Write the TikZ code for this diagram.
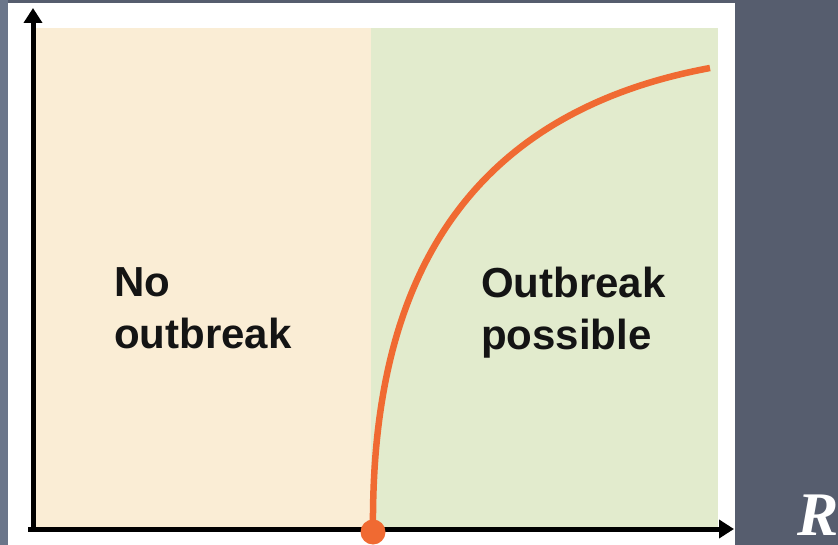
\documentclass[tikz,border=0pt]{standalone}
\usepackage{fontspec}
\setmainfont{Liberation Sans}
\newfontfamily\rfont{Liberation Serif}
\usetikzlibrary{arrows.meta}
\definecolor{bgdark}{HTML}{565D6E}
\definecolor{bgside}{HTML}{6B768A}
\definecolor{beige}{HTML}{FAEDD5}
\definecolor{palegreen}{HTML}{E2EBCD}
\definecolor{curveorange}{HTML}{F06A32}
\tikzset{
  axis/.style={line width=5pt, -{Triangle[length=15pt,width=18pt]}},
  label/.style={font=\bfseries\fontsize{42}{52}\selectfont, align=left, anchor=north west, inner sep=0pt, text=black!92},
}
\begin{document}
\begin{tikzpicture}[x=1pt,y=-1pt]
  % background
  \fill[bgdark] (0,0) rectangle (838,545);
  \fill[bgside] (0,0) rectangle (8,545);
  \useasboundingbox (0,0) rectangle (838,545);
  % white panel
  \fill[white] (8,3) rectangle (735,545);
  % regions
  \fill[beige] (33,28) rectangle (371,527);
  \fill[palegreen] (371,28) rectangle (718,527);
  % axes
  \coordinate (origin) at (33,529);
  \coordinate (ytip) at (33,8);
  \coordinate (xtip) at (734,529);
  \draw[axis] (origin) -- (ytip);
  \draw[axis] (28,529) -- (xtip);
  % labels
  \node[label] (noout) at (114,267) {No\\outbreak};
  \node[label] (possible) at (481,267) {Outbreak\\possible};
  % threshold curve
  \coordinate (start) at (373,532);
  \coordinate (stop) at (710,68);
  \draw[curveorange, line width=6.5pt] (start) .. controls (371,330) and (430,120) .. (stop);
  \node[circle, fill=curveorange, minimum size=25pt, inner sep=0pt] (dot) at (start) {};
  % axis name
  \node[anchor=base west, inner sep=0pt, text=white, font=\rfont\bfseries\itshape\fontsize{62}{62}\selectfont] (rlabel) at (797,535) {R};
\end{tikzpicture}
\end{document}
